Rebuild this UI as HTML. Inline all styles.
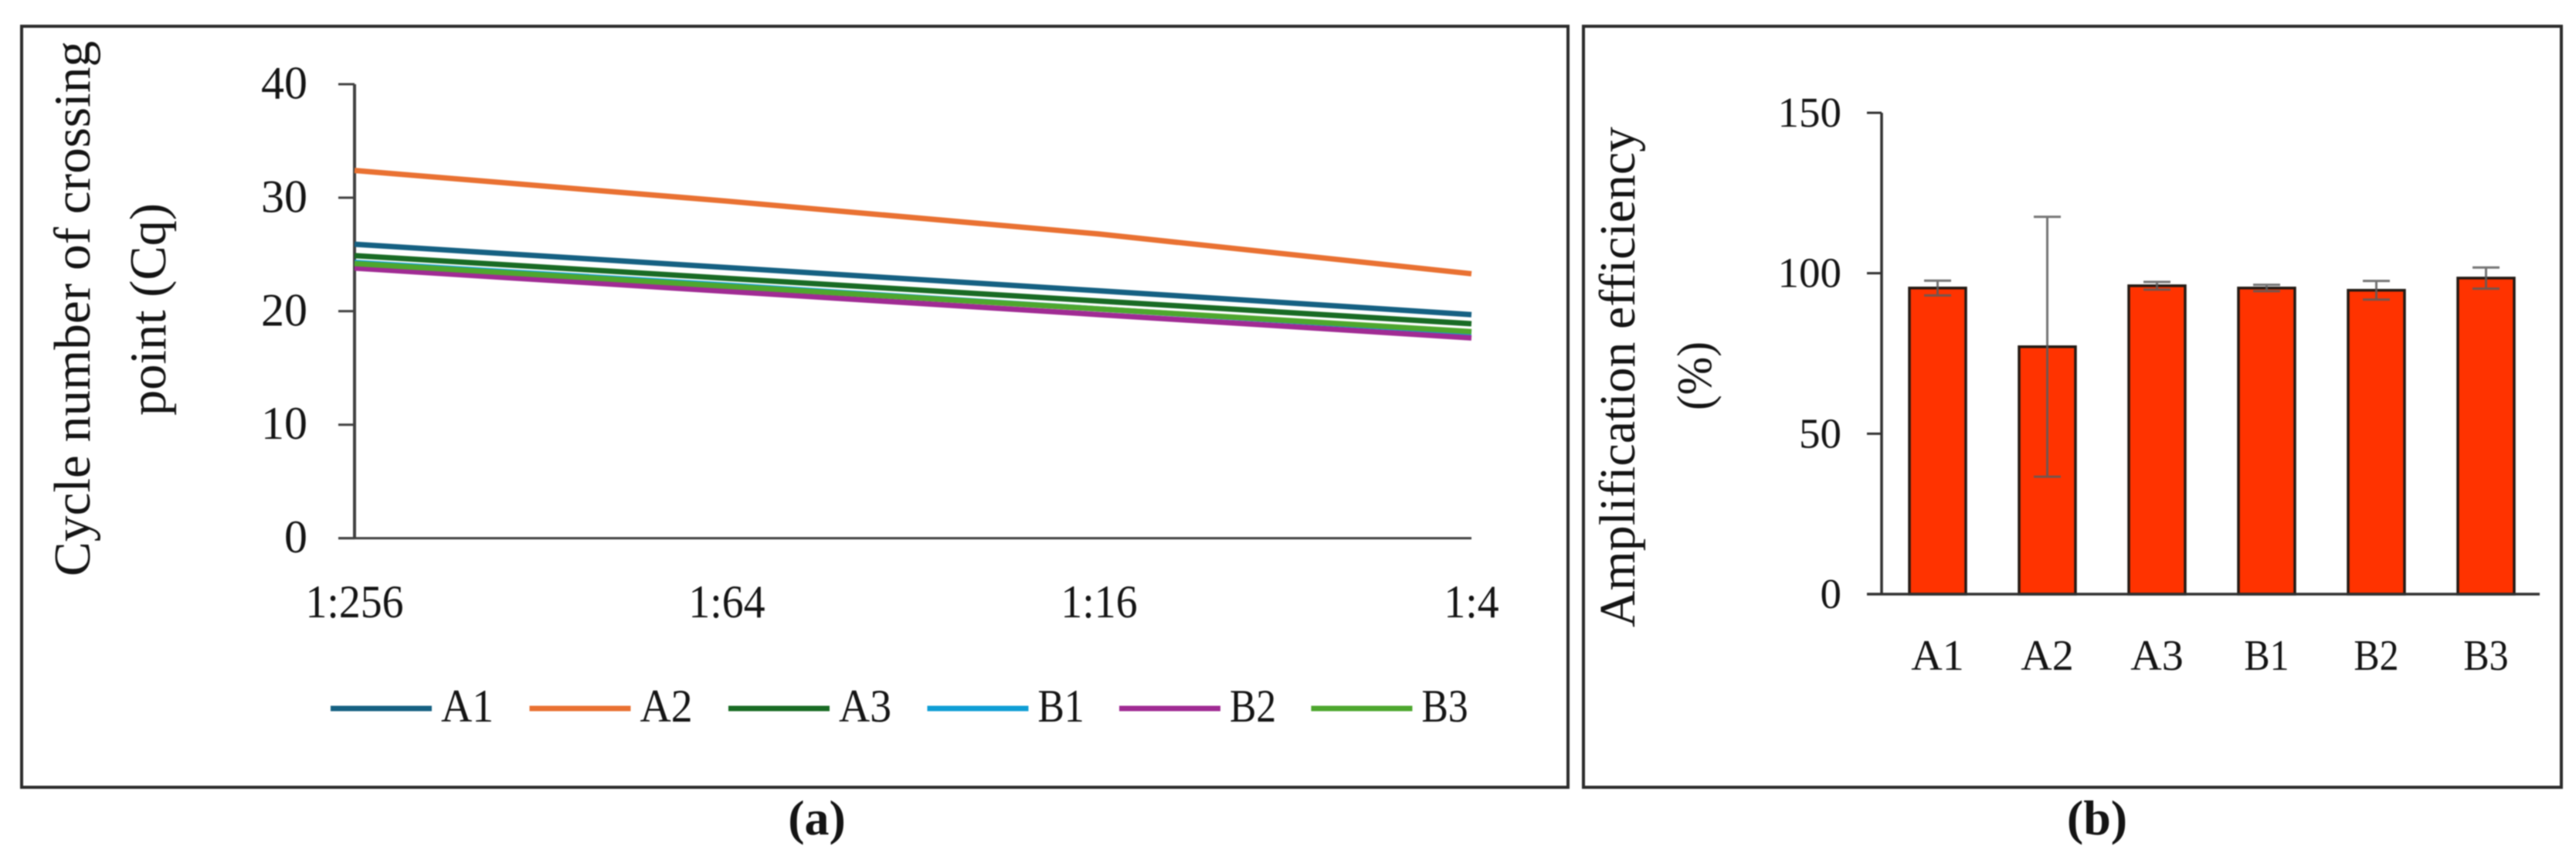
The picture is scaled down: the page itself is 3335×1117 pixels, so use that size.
<!DOCTYPE html>
<html lang="en">
<head>
<meta charset="utf-8">
<title>Cq and amplification efficiency charts</title>
<style>
html,body{margin:0;padding:0;background:#fff;width:3335px;height:1117px;overflow:hidden}
svg{display:block;filter:blur(0.7px)}
text{font-family:"Liberation Serif",serif;fill:#141414}
</style>
</head>
<body>
<svg id="figure" xmlns="http://www.w3.org/2000/svg" width="3335" height="1117" viewBox="0 0 3335 1117">
  <rect x="0" y="0" width="3335" height="1117" fill="#ffffff"/>
  <rect x="28" y="34" width="2002" height="985" fill="none" stroke="#2b2b2b" stroke-width="4"/>
  <rect x="2050" y="34" width="1266" height="985" fill="none" stroke="#2b2b2b" stroke-width="4"/>
  <text transform="translate(116 746) rotate(-90)" font-size="67" textLength="693" lengthAdjust="spacingAndGlyphs">Cycle number of crossing</text>
  <text transform="translate(214 538) rotate(-90)" font-size="67" textLength="275" lengthAdjust="spacingAndGlyphs">point (Cq)</text>
  <text transform="translate(2116 812) rotate(-90)" font-size="66" textLength="648" lengthAdjust="spacingAndGlyphs">Amplification efficiency</text>
  <text transform="translate(2215 531) rotate(-90)" font-size="64" textLength="89" lengthAdjust="spacingAndGlyphs">(%)</text>
  <text x="1057.5" y="1080" font-size="64" font-weight="bold" text-anchor="middle">(a)</text>
  <text x="2715" y="1080" font-size="64" font-weight="bold" text-anchor="middle">(b)</text>
  <g id="chart-a"></g>
  <g id="chart-b"></g>
</svg>
<script>
// Panel (a) data
const dilutions = ['1:256', '1:64', '1:16', '1:4'];
const cqTicks = [0, 10, 20, 30, 40];
const seriesNames = ['A1', 'A2', 'A3', 'B1', 'B2', 'B3'];
const seriesColors = ['#156082', '#E97132', '#196B24', '#0F9ED5', '#A02B93', '#4EA72E'];
const cqA1 = [25.9, 23.85, 21.8, 19.7];
const cqA2 = [32.4, 29.7, 26.8, 23.3];
const cqA3 = [24.9, 22.9, 20.9, 18.9];
const cqB1 = [24.3, 22.3, 20.2, 18.1];
const cqB2 = [23.8, 21.75, 19.7, 17.65];
const cqB3 = [24.2, 22.2, 20.2, 18.2];

// Panel (b) data
const efficiencyTicks = [0, 50, 100, 150];
const efficiency = [95.4, 77.1, 96.1, 95.4, 94.7, 98.5];
const efficiencyError = [2.3, 40.5, 1.2, 1.0, 2.9, 3.3];

const NS = 'http://www.w3.org/2000/svg';
function make(parent, tag, attrs, content) {
  const el = document.createElementNS(NS, tag);
  for (const k in attrs) el.setAttribute(k, attrs[k]);
  if (content !== undefined) el.textContent = content;
  parent.appendChild(el);
  return el;
}

// Panel (a) scales
const aLeft = 459, aRight = 1905, aZero = 696.6, aTop = 109, aMax = 40;
function xA(i) { return aLeft + i * (aRight - aLeft) / (dilutions.length - 1); }
function yA(v) { return aZero - v * (aZero - aTop) / aMax; }

const chartA = document.getElementById('chart-a');
const cqSeries = [cqA1, cqA2, cqA3, cqB1, cqB2, cqB3];

let el;
el = make(chartA, 'line', {x1: aLeft, y1: aTop, x2: aLeft, y2: aZero, stroke: '#404040', 'stroke-width': 4});


el = make(chartA, 'line', {x1: 438, y1: aZero, x2: aRight, y2: aZero, stroke: '#404040', 'stroke-width': 3});



cqTicks.forEach(function (t) {
  const tick = make(chartA, 'line', {x1: 438, y1: yA(t), x2: aLeft, y2: yA(t), stroke: '#404040', 'stroke-width': 3});
  
  
  const label = make(chartA, 'text', {x: 398, y: yA(t) + 18.5, 'font-size': 60, 'text-anchor': 'end'}, String(t));
  
  
});

dilutions.forEach(function (d, i) {
  const label = make(chartA, 'text', {transform: 'translate(' + xA(i) + ' 799) scale(0.93 1)', 'font-size': 60, 'text-anchor': 'middle'}, d);
  
  
});

cqSeries.forEach(function (vals, s) {
  const pts = vals.map(function (v, i) { return xA(i) + ',' + yA(v); }).join(' ');
  const line = make(chartA, 'polyline', {points: pts, fill: 'none', stroke: seriesColors[s], 'stroke-width': 7, 'stroke-linejoin': 'round'});
  
  
});

let legendX = 428;
seriesNames.forEach(function (name, s) {
  const isA = name.charAt(0) === 'A';
  const key = make(chartA, 'line', {x1: legendX, y1: 917, x2: legendX + 131, y2: 917, stroke: seriesColors[s], 'stroke-width': 7});
  
  
  const label = make(chartA, 'text', {transform: 'translate(' + (legendX + 143) + ' 934) scale(' + (isA ? 0.93 : 0.86) + ' 1)', 'font-size': 60}, name);
  
  
  legendX += isA ? 257.5 : 248.5;
});

// Panel (b) scales
const bLeft = 2436, bRight = 3288, bZero = 769, bTop = 146, bMax = 150, barWidth = 73, capHalf = 17.5;
function xB(i) { return bLeft + (i + 0.5) * (bRight - bLeft) / seriesNames.length + 1.5; }
function yB(v) { return bZero - v * (bZero - bTop) / bMax; }

const chartB = document.getElementById('chart-b');

el = make(chartB, 'line', {x1: bLeft, y1: bTop, x2: bLeft, y2: bZero, stroke: '#303030', 'stroke-width': 3.5});



efficiencyTicks.forEach(function (t) {
  const tick = make(chartB, 'line', {x1: 2417, y1: yB(t), x2: bLeft, y2: yB(t), stroke: '#303030', 'stroke-width': 3});
  
  
  const label = make(chartB, 'text', {x: 2384, y: yB(t) + 18, 'font-size': 55, 'text-anchor': 'end'}, String(t));
  
  
});

efficiency.forEach(function (v, i) {
  const cx = xB(i);
  const bar = make(chartB, 'rect', {x: cx - barWidth / 2, y: yB(v), width: barWidth, height: bZero - yB(v), fill: '#ff3300', stroke: '#231a14', 'stroke-width': 3.5});
  
  
  const hi = yB(v + efficiencyError[i]), lo = yB(v - efficiencyError[i]);
  const d = 'M' + cx + ' ' + hi + 'V' + lo + 'M' + (cx - capHalf) + ' ' + hi + 'H' + (cx + capHalf) + 'M' + (cx - capHalf) + ' ' + lo + 'H' + (cx + capHalf);
  const err = make(chartB, 'path', {d: d, fill: 'none', stroke: '#5c5c5c', 'stroke-width': 3, opacity: 0.85});
  
  
  const isB = seriesNames[i].charAt(0) === 'B';
  const label = make(chartB, 'text', {transform: 'translate(' + cx + ' 867) scale(' + (isB ? 0.89 : 1) + ' 1)', 'font-size': 56, 'text-anchor': 'middle'}, seriesNames[i]);
  
  
});

el = make(chartB, 'line', {x1: 2417, y1: bZero, x2: bRight, y2: bZero, stroke: '#303030', 'stroke-width': 3.5});


</script>
</body>
</html>
